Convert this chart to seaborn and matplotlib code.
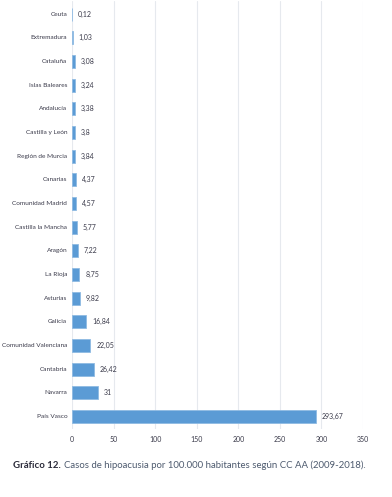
import matplotlib
matplotlib.use("Agg")
import matplotlib.pyplot as plt
import matplotlib.transforms as mtrans
import seaborn as sns
import pandas as pd

regions = ["Ceuta", "Extremadura", "Cataluña", "Islas Baleares", "Andalucía",
           "Castilla y León", "Región de Murcia", "Canarias", "Comunidad Madrid",
           "Castilla la Mancha", "Aragón", "La Rioja", "Asturias", "Galicia",
           "Comunidad Valenciana", "Cantabria", "Navarra", "País Vasco"]
rates = [0.12, 1.03, 3.08, 3.24, 3.38, 3.8, 3.84, 4.37, 4.57, 5.77, 7.22,
         8.75, 9.82, 16.84, 22.05, 26.42, 31, 293.67]
xticks = [0, 50, 100, 150, 200, 250, 300, 350]

df = pd.DataFrame({"region": regions, "rate": rates})

sns.set_style("white")
plt.rcParams['font.family'] = ['Lato', 'DejaVu Sans']

fig = plt.figure(figsize=(3.92, 4.97), dpi=100)
ax = fig.add_axes([0.184, 0.136, 0.742, 0.862])

sns.barplot(data=df, y="region", x="rate", color="#5b9bd5", width=0.55,
            saturation=1, orient="h", ax=ax, zorder=3,
            edgecolor="#8fbbe3", linewidth=0.6)

for i, v in enumerate(rates):
    label = f"{v:g}".replace(".", ",")
    ax.text(v + 7, i, label, va="center", ha="left", fontsize=5,
            color="#3a3a4a")

# category labels drawn as text, sized so the longest one fits
ax.set_yticklabels([])
lab_tr = mtrans.offset_copy(ax.get_yaxis_transform(), fig=fig, x=-5, y=0,
                            units="dots")
for i, name in enumerate(regions):
    ax.text(0, i, name, transform=lab_tr, ha="right", va="center",
            fontsize=4.65, color="#3a3a4a")

ax.set_xlim(0, 350)
ax.set_ylim(17.55, -0.55)
ax.set_xticks(xticks)
ax.set_xticklabels([str(t) for t in xticks])
ax.tick_params(axis="both", length=0, labelsize=5, colors="#3a3a4a", pad=5)
ax.xaxis.grid(True, color="#e6e9ee", linewidth=0.8, zorder=0)
ax.set_xlabel("")
ax.set_ylabel("")
for s in ax.spines.values():
    s.set_visible(False)

# caption: bold prefix followed by normal text
t1 = fig.text(13 / 392, 0.064, "Gráfico 12.", fontsize=6.9, fontweight="bold",
              color="#2b2b3a", va="center")
fig.canvas.draw()
bb = t1.get_window_extent(fig.canvas.get_renderer())
x2 = (bb.x1 + 3) / fig.bbox.width
fig.text(x2, 0.064, "Casos de hipoacusia por 100.000 habitantes según CC AA (2009-2018).",
         fontsize=6.9, color="#4d5a6e", va="center")

fig.savefig("out.png", dpi=100)
